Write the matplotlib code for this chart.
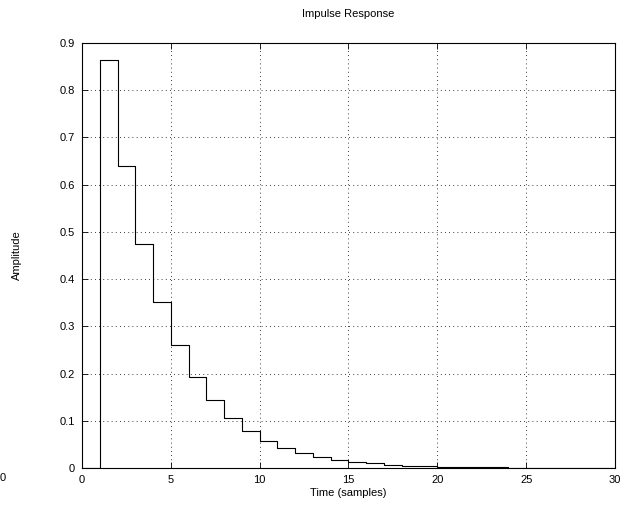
import numpy as np
import matplotlib
matplotlib.use("Agg")
import matplotlib.pyplot as plt

# impulse response samples, n = 0..30
samples = np.arange(0, 31)
amplitude = [0.0, 0.865, 0.640, 0.475, 0.352, 0.261, 0.193, 0.143, 0.106, 0.079,
             0.058, 0.043, 0.032, 0.024, 0.018, 0.013, 0.010, 0.007, 0.005, 0.004,
             0.0029, 0.0022, 0.0016, 0.0012, 0.0009, 0.0007, 0.0005, 0.0004,
             0.0003, 0.0002, 0.0002]
xticks = [0, 5, 10, 15, 20, 25, 30]
yticks = [0, 0.1, 0.2, 0.3, 0.4, 0.5, 0.6, 0.7, 0.8, 0.9]

plt.rcParams["font.family"] = ["Liberation Sans", "DejaVu Sans"]
plt.rcParams["font.size"] = 8

fig = plt.figure(figsize=(6.27, 5.13), dpi=100)
ax = fig.add_axes([82 / 627, 1 - 468 / 513, (615 - 82) / 627, (468 - 43) / 513])

ax.step(samples, amplitude, where="post", color="black", lw=0.8)

ax.set_xlim(0, 30)
ax.set_ylim(0, 0.9)
ax.set_xticks(xticks)
ax.set_yticks(yticks)
ax.set_yticklabels(["0", "0.1", "0.2", "0.3", "0.4", "0.5", "0.6", "0.7", "0.8", "0.9"])
ax.tick_params(direction="in", top=True, right=True, length=4, width=0.6, pad=5)
ax.grid(True, color="black", linestyle=(0, (1, 4)), linewidth=0.6)
for s in ax.spines.values():
    s.set_linewidth(0.8)

ax.set_title("Impulse Response", fontsize=8, pad=19)
ax.set_xlabel("Time (samples)", labelpad=2)
ax.set_ylabel("Amplitude", labelpad=27)

# stray tick label at the far left edge, as in the original export
fig.text(0.0, 1 - 478 / 513, "0", ha="left", va="center", fontsize=8)

fig.savefig("out.png", dpi=100)
